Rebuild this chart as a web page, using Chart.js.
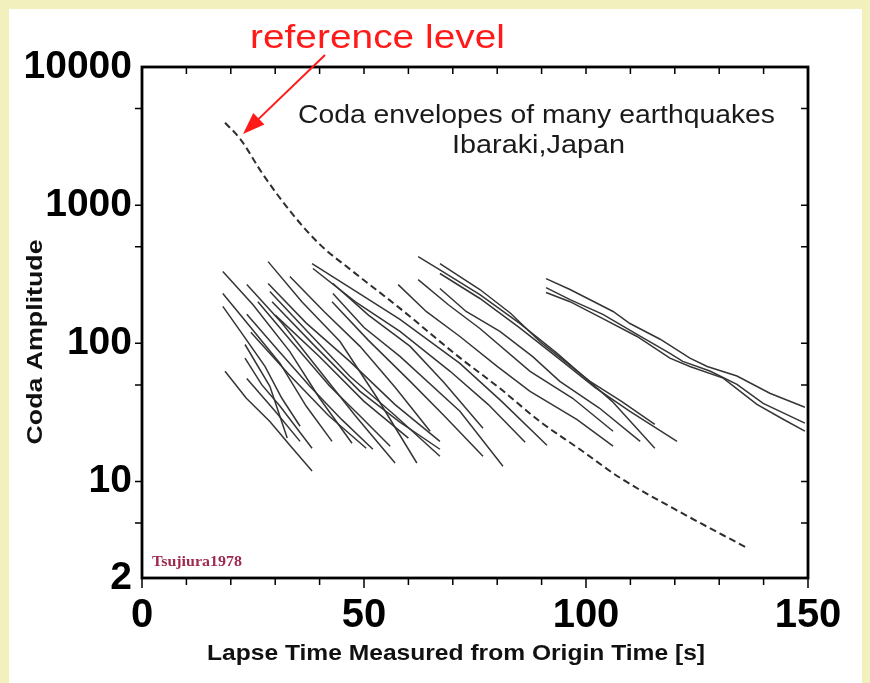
<!DOCTYPE html>
<html>
<head>
<meta charset="utf-8">
<script src="https://cdn.jsdelivr.net/npm/chart.js@4.4.1/dist/chart.umd.min.js"></script>
<style>
  html, body { margin: 0; padding: 0; background: #f2f0bd; }
  canvas { display: block; }
</style>
</head>
<body>
<canvas id="coda" width="870" height="683"></canvas>
<script>
// [lapse time (s), coda amplitude]
const referenceLevel = [[18.7,3945],[22.1,3020],[27.3,1660],[34.0,853],[40.1,518],[47.5,331],[58.1,179],
  [71.2,80.4],[80.6,47.2],[89.6,27.2],[98.6,17.1],[107.7,10.6],[119.6,6.4],[136.3,3.3]];

const earlyEnvelopes = [
  [[18.2,331],[25.0,190],[33.3,87],[40.0,40],[47.3,18.9]],
  [[18.2,229],[24.5,130],[31.1,71.5],[37.0,35],[42.8,19.5]],
  [[18.2,185],[22.5,118],[27.7,68],[31.5,40],[35.6,25.1]],
  [[18.7,62.7],[23.5,40],[28.8,27.2],[33.5,18],[38.3,11.9]],
  [[23.2,98],[28.8,48.8],[32.7,20.6]],
  [[23.2,78],[27.0,50],[31.1,35],[38.3,17.4]],
  [[23.6,55.7],[30.0,32.2],[35.6,19.5]],
  [[23.6,266],[31.5,140],[40.1,62.7],[48.0,30],[57.0,13.6]],
  [[23.6,162],[30.5,90],[37.8,48.8],[45.0,28],[52.0,17.1]],
  [[28.4,390],[36.0,200],[44.6,103],[53.0,40],[61.9,13.6]],
  [[28.4,271],[37.0,140],[46.8,74],[57.0,36],[67.1,19.5]],
  [[28.8,237],[38.0,115],[46.8,57.7],[57.0,30],[67.1,15.2]],
  [[29.3,200],[39.0,95],[49.1,44.9],[58.0,27],[67.1,17.1]],
  [[33.3,304],[41.0,170],[49.1,95],[57.0,48],[64.9,23.1]],
  [[26.1,200],[34.0,100],[42.3,48.8],[49.0,30],[55.9,18]],
  [[30.0,160],[40.0,80],[50.0,38],[60.0,20.6]],
  [[24.5,120],[33.0,60],[42.0,30],[50.5,17.4]]
];

const middleEnvelopes = [
  [[38.3,378],[48.0,240],[58.1,149],[71.6,71.5],[81.0,38],[91.2,18.3]],
  [[38.5,348],[48.0,200],[58.1,122],[69.4,62.7],[78.0,36],[86.3,19.2]],
  [[43.0,271],[51.0,160],[60.4,95],[68.0,52],[76.8,24.3]],
  [[43.0,229],[50.0,130],[58.1,80.4],[71.6,32.2],[81.3,12.9]],
  [[42.8,200],[51.0,105],[60.4,53],[68.0,30],[76.8,15.2]]
];

const lateEnvelopes = [
  [[62.2,424],[67.1,340],[76.1,225],[85.0,140],[93.5,84.5],[105.9,38],[115.5,17.4]],
  [[67.1,378],[76.1,245],[83.0,165],[89.6,103],[100.9,53],[108.0,38],[115.5,25.9]],
  [[67.1,320],[76.1,211],[85.0,130],[94.1,76.4],[102.0,48],[109.9,32.2],[120.5,19.5]],
  [[62.2,289],[69.0,190],[76.1,128],[87.4,62.7],[97.0,40],[106.1,23.1]],
  [[57.7,266],[64.0,170],[71.6,112],[80.0,68],[87.4,44.9],[98.0,28],[106.1,18]],
  [[67.1,249],[73.0,170],[80.6,122],[88.0,80],[94.1,53],[103.0,34],[112.2,19.5]]
];

const latestEnvelopes = [
  [[91.0,294],[96.4,245],[106.1,170],[109.9,139],[116.7,107],[123.4,78],[127.3,68],[134.0,58],[141.4,43.5],[149.3,34.4]],
  [[91.0,253],[96.4,207],[103.8,162],[111.5,116],[118.9,84.5],[121.8,74],[127.9,63],[134.0,50.5],[139.9,36.7],[149.3,26.4]],
  [[91.0,233],[96.4,200],[103.8,151],[111.5,112],[118.9,78],[123.4,68],[130.9,56],[138.5,36.1],[144.4,28.2],[149.3,23.1]]
];

const xTickLabels = [0, 50, 100, 150];
const yTickLabels = [2, 10, 100, 1000, 10000];
const xTickMarks = [0, 10, 20, 30, 40, 50, 60, 70, 80, 90, 100, 110, 120, 130, 140, 150];
const yTickMarks = [5, 10, 50, 100, 500, 1000, 5000];

const envelopeColor = '#353535';

function envelopeDataset(pts) {
  return {
    data: pts.map(p => ({ x: p[0], y: p[1] })),
    borderColor: envelopeColor,
    borderWidth: 1.5,
    pointRadius: 0,
    fill: false,
    tension: 0
  };
}

const allEnvelopes = earlyEnvelopes.concat(middleEnvelopes, lateEnvelopes, latestEnvelopes);
const datasets = allEnvelopes.map(envelopeDataset);
datasets.push({
  data: referenceLevel.map(p => ({ x: p[0], y: p[1] })),
  borderColor: '#2e2e2e',
  borderWidth: 2,
  borderDash: [7, 4],
  pointRadius: 0,
  fill: false,
  cubicInterpolationMode: 'monotone'
});

// text squeezed/stretched to the width it has in the figure
function wideText(ctx, text, x, y, width, font, color, align) {
  ctx.save();
  ctx.font = font;
  ctx.fillStyle = color;
  ctx.textBaseline = 'alphabetic';
  ctx.textAlign = 'left';
  const w = ctx.measureText(text).width;
  const sx = width / w;
  ctx.translate(x, y);
  ctx.scale(sx, 1);
  ctx.fillText(text, align === 'center' ? -w / 2 : 0, 0);
  ctx.restore();
}

const framePlugin = {
  id: 'frame',
  beforeDraw(chart) {
    const ctx = chart.ctx;
    ctx.save();
    ctx.fillStyle = '#f2f0bd';
    ctx.fillRect(0, 0, chart.width, chart.height);
    ctx.fillStyle = '#ffffff';
    ctx.fillRect(9, 9, 853, chart.height - 9);
    ctx.restore();
  },
  afterDraw(chart) {
    const ctx = chart.ctx;
    const a = chart.chartArea;
    const xs = chart.scales.x, ys = chart.scales.y;
    ctx.save();
    ctx.strokeStyle = '#000';
    ctx.lineWidth = 1.5;
    ctx.beginPath();
    xTickMarks.forEach(v => {
      const px = xs.getPixelForValue(v);
      const len = v % 50 === 0 ? 10 : 7;
      ctx.moveTo(px, a.bottom); ctx.lineTo(px, a.bottom + len);
      ctx.moveTo(px, a.top); ctx.lineTo(px, a.top + 7);
    });
    yTickMarks.forEach(v => {
      const py = ys.getPixelForValue(v);
      ctx.moveTo(a.left, py); ctx.lineTo(a.left - 7, py);
      ctx.moveTo(a.right, py); ctx.lineTo(a.right - 7, py);
    });
    ctx.stroke();
    ctx.lineWidth = 2.8;
    ctx.strokeRect(a.left, a.top, a.right - a.left, a.bottom - a.top);

    // axis titles
    wideText(ctx, 'Lapse Time Measured from Origin Time [s]', 456, 660, 498, 'bold 22px "Liberation Sans", Arial, sans-serif', '#111', 'center');
    ctx.save();
    ctx.translate(42, 342);
    ctx.rotate(-Math.PI / 2);
    wideText(ctx, 'Coda Amplitude', 0, 0, 205, 'bold 22px "Liberation Sans", Arial, sans-serif', '#111', 'center');
    ctx.restore();

    // annotations
    wideText(ctx, 'Coda envelopes of many earthquakes', 298, 123, 477, '26px "Liberation Sans", Arial, sans-serif', '#1a1a1a');
    wideText(ctx, 'Ibaraki,Japan', 452, 153, 173, '26px "Liberation Sans", Arial, sans-serif', '#1a1a1a');
    wideText(ctx, 'Tsujiura1978', 152, 566, 90, 'bold 14px "Liberation Serif", "Times New Roman", serif', '#9e2a4e');
    wideText(ctx, 'reference level', 250, 48, 255, '33px "Liberation Sans", Arial, sans-serif', '#ff1a1a');

    // arrow to the reference curve
    const x0 = 325, y0 = 55, x1 = 243, y1 = 134;
    const ang = Math.atan2(y1 - y0, x1 - x0);
    ctx.strokeStyle = '#ff1a1a';
    ctx.fillStyle = '#ff1a1a';
    ctx.lineWidth = 2;
    ctx.beginPath();
    ctx.moveTo(x0, y0);
    ctx.lineTo(x1 - 16 * Math.cos(ang), y1 - 16 * Math.sin(ang));
    ctx.stroke();
    ctx.beginPath();
    ctx.moveTo(x1, y1);
    ctx.lineTo(x1 - 22 * Math.cos(ang) + 8 * Math.sin(ang), y1 - 22 * Math.sin(ang) - 8 * Math.cos(ang));
    ctx.lineTo(x1 - 22 * Math.cos(ang) - 8 * Math.sin(ang), y1 - 22 * Math.sin(ang) + 8 * Math.cos(ang));
    ctx.closePath();
    ctx.fill();
    ctx.restore();
  }
};

new Chart(document.getElementById('coda').getContext('2d'), {
  type: 'line',
  data: { datasets: datasets },
  options: {
    responsive: false,
    animation: false,
    devicePixelRatio: 1,
    layout: { padding: { top: 67, right: 62, left: 0, bottom: 0 } },
    plugins: { legend: { display: false }, tooltip: { enabled: false } },
    scales: {
      x: {
        type: 'linear',
        min: 0,
        max: 150,
        grid: { display: false },
        border: { display: false },
        afterBuildTicks: s => { s.ticks = xTickLabels.map(v => ({ value: v })); },
        afterFit: s => { s.height = 105; },
        ticks: {
          autoSkip: false,
          maxRotation: 0,
          padding: 6,
          color: '#000',
          font: { family: '"Liberation Sans", Arial, sans-serif', size: 40, weight: 'bold' }
        }
      },
      y: {
        type: 'logarithmic',
        min: 2,
        max: 10000,
        grid: { display: false },
        border: { display: false },
        afterBuildTicks: s => { s.ticks = yTickLabels.map(v => ({ value: v })); },
        afterFit: s => { s.width = 142; },
        ticks: {
          autoSkip: false,
          padding: 2,
          color: '#000',
          callback: v => String(v),
          font: { family: '"Liberation Sans", Arial, sans-serif', size: 39, weight: 'bold' }
        }
      }
    }
  },
  plugins: [framePlugin]
});
</script>
</body>
</html>
